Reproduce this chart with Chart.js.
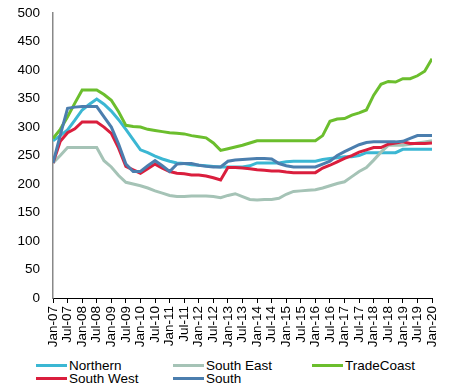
<!DOCTYPE html>
<html>
<head>
<meta charset="utf-8">
<script src="https://cdn.jsdelivr.net/npm/chart.js@4.4.0/dist/chart.umd.min.js"></script>
<style>
html, body { margin: 0; padding: 0; background: #fff; }
#wrap { position: relative; width: 452px; height: 389px; }
#chart { position: absolute; left: 0; top: 0; }
.lg { position: absolute; font: 13.5px "Liberation Sans", Arial, sans-serif; color: #000;
      line-height: 14px; white-space: nowrap; }
.lg i { display: inline-block; width: 31px; height: 3px; vertical-align: middle;
        margin-right: 2px; position: relative; top: -1px; }
</style>
</head>
<body>
<div id="wrap">
  <canvas id="chart" width="452" height="352"></canvas>
  <div class="lg" style="left:36px;top:359px"><i style="background:#3BB7D3"></i>Northern</div>
  <div class="lg" style="left:173px;top:359px"><i style="background:#A5C3B6"></i>South East</div>
  <div class="lg" style="left:312px;top:359px"><i style="background:#6BBE2D"></i>TradeCoast</div>
  <div class="lg" style="left:36px;top:372px"><i style="background:#DA1E3D"></i>South West</div>
  <div class="lg" style="left:173px;top:372px"><i style="background:#4B7EAE"></i>South</div>
</div>
<script>
// ── Data (quarterly, Jan-07 .. Jan-20) ───────────────────────────
const tickLabels = ["Jan-07","Jul-07","Jan-08","Jul-08","Jan-09","Jul-09","Jan-10","Jul-10",
    "Jan-11","Jul-11","Jan-12","Jul-12","Jan-13","Jul-13","Jan-14","Jul-14","Jan-15","Jul-15",
    "Jan-16","Jul-16","Jan-17","Jul-17","Jan-18","Jul-18","Jan-19","Jul-19","Jan-20"];

const northern   = [276,285,295,312,330,340,349,340,328,313,296,278,260,255,249,244,240,237,236,234,
                    233,232,231,230,230,230,230,232,237,237,237,237,239,240,240,240,240,243,245,246,
                    248,248,250,255,255,255,255,255,261,261,261,261,261];
const southEast  = [237,250,264,264,264,264,264,241,230,215,203,200,197,193,188,184,180,178,178,179,
                    179,179,178,176,180,183,178,173,172,173,173,175,182,187,188,189,190,193,197,201,
                    204,213,222,229,242,256,268,268,268,270,272,274,276];
const tradeCoast = [280,296,318,342,365,365,365,357,347,327,303,301,300,296,294,292,290,289,288,285,
                    283,281,272,259,262,265,268,272,276,276,276,276,276,276,276,276,276,285,310,314,
                    315,321,325,330,356,375,380,379,385,385,390,398,420];
const southWest  = [237,275,290,297,309,309,309,300,289,263,231,225,219,227,235,228,222,219,218,216,
                    216,214,211,207,229,229,228,227,225,224,223,223,221,220,220,220,220,228,233,239,
                    245,250,256,260,264,264,270,272,274,271,271,271,272];
const south      = [237,286,333,335,336,336,336,318,300,270,235,222,222,232,241,232,222,235,236,236,
                    233,231,230,230,240,242,243,244,245,245,244,236,232,230,230,230,230,235,240,250,
                    257,263,269,273,274,274,274,274,275,280,285,285,285];

const yTicks = { min: 0, max: 500, step: 50 };

// ── Helpers ──────────────────────────────────────────────────────
const FONT = { family: '"Liberation Sans", Arial, sans-serif', size: 13.5 };

function line(label, values, color) {
    return {
        label,
        data:        values.map((v, i) => ({ x: i, y: v })),
        borderColor: color,
        borderWidth: 3,
        pointRadius: 0,
        tension:     0,
        fill:        false,
    };
}

// South drawn last in the original, so it goes first here (first = on top)
new Chart(document.getElementById("chart"), {
    type: "line",
    data: {
        datasets: [
            line("South",      south,      "#4B7EAE"),
            line("South West", southWest,  "#DA1E3D"),
            line("TradeCoast", tradeCoast, "#6BBE2D"),
            line("South East", southEast,  "#A5C3B6"),
            line("Northern",   northern,   "#3BB7D3"),
        ]
    },
    options: {
        responsive: false,
        animation:  false,
        layout: { padding: { top: 7, right: 20, left: 0, bottom: 0 } },
        plugins: { legend: { display: false }, tooltip: { enabled: false } },
        scales: {
            x: {
                type: "linear",
                min:  0,
                max:  (tickLabels.length - 1) * 2,
                ticks: {
                    stepSize:    2,
                    autoSkip:    false,
                    maxRotation: 90,
                    minRotation: 90,
                    padding:     3,
                    color:       "#000",
                    font:        FONT,
                    callback:    (v) => tickLabels[v / 2],
                },
                grid:   { drawOnChartArea: false, drawTicks: true, tickLength: 5, color: "#000" },
                border: { color: "#000", width: 1 },
                afterFit: (s) => { s.height = 54; },
            },
            y: {
                min: yTicks.min,
                max: yTicks.max,
                ticks: {
                    stepSize: yTicks.step,
                    padding:  5,
                    color:    "#000",
                    font:     FONT,
                },
                grid:   { display: false },
                border: { color: "#888", width: 1.5 },
                afterFit: (s) => { s.width = 53; },
            }
        }
    }
});
</script>
</body>
</html>
